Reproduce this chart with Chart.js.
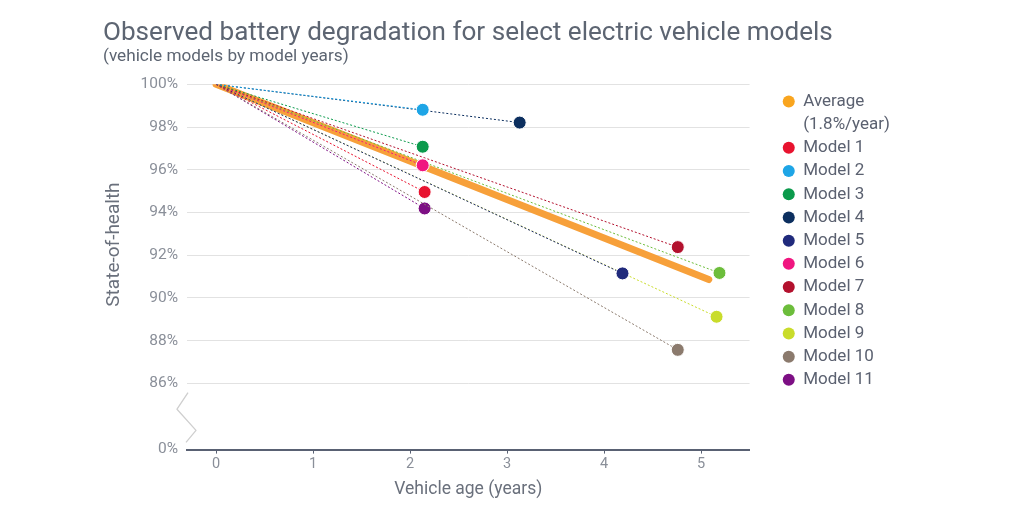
<!DOCTYPE html>
<html><head><meta charset="utf-8">
<script src="https://cdn.jsdelivr.net/npm/chart.js@4/dist/chart.umd.min.js"></script>
<style>html,body{margin:0;padding:0;background:#fff;}#wrap{width:1024px;height:518px;}</style>
</head><body><div id="wrap"><canvas id="c" width="1024" height="518"></canvas></div>
<script>
const titleText = 'Observed battery degradation for select electric vehicle models';
const subtitleText = '(vehicle models by model years)';
const xAxisTitle = 'Vehicle age (years)';
const yAxisTitle = 'State-of-health';

const averageLabel = 'Average';
const averageNote = '(1.8%/year)';
const averageAges = [0, 5.08];
const averageHealth = [100, 90.86];

const modelLabels = ['Model 1','Model 2','Model 3','Model 4','Model 5','Model 6','Model 7','Model 8','Model 9','Model 10','Model 11'];
const modelColors = ['#e8132f','#1ea5e6','#0b9a4c','#0c2f5f','#202a7c','#f01680','#b3112e','#6cbd3b','#c9dc2b','#8b7a6d','#7d0f84'];
const modelAges = [2.15, 2.13, 2.13, 3.13, 4.19, 2.13, 4.76, 5.19, 5.16, 4.76, 2.15];
const modelHealth = [94.96, 98.81, 97.08, 98.21, 91.15, 96.21, 92.38, 91.17, 89.12, 87.57, 94.19];
const startAge = 0;
const startHealth = 100;

const xTickValues = [0, 1, 2, 3, 4, 5];
const yTickValues = [86, 88, 90, 92, 94, 96, 98, 100];
const yBreakValue = 82.9;
const yBreakLabel = '0%';

const FONT = 'Roboto, "Open Sans", sans-serif';
const averageColor = '#f7a03a';

const datasets = [{
  label: averageLabel,
  data: averageAges.map((x, i) => ({x, y: averageHealth[i]})),
  borderColor: averageColor,
  backgroundColor: '#f9a51f',
  borderWidth: 7,
  borderCapStyle: 'round',
  pointRadius: 0,
  pointStyle: 'circle',
  order: 2
}];
modelLabels.forEach((lab, i) => {
  datasets.push({
    label: lab,
    data: [{x: startAge, y: startHealth}, {x: modelAges[i], y: modelHealth[i]}],
    borderColor: modelColors[i],
    backgroundColor: modelColors[i],
    borderWidth: 1,
    borderDash: [2, 2],
    pointRadius: [0, 6.5],
    pointBorderColor: '#ffffff',
    pointBorderWidth: 1,
    pointStyle: 'circle',
    order: 1
  });
});

const breakPlugin = {
  id: 'axisBreak',
  afterDraw(chart) {
    const {ctx, chartArea, scales} = chart;
    const y86 = scales.y.getPixelForValue(yTickValues[0]);
    const yb = scales.y.getPixelForValue(yBreakValue);
    const x0 = chartArea.left;
    const h = yb - y86;
    ctx.save();
    ctx.strokeStyle = '#cfcfcf';
    ctx.lineWidth = 1.3;
    ctx.lineJoin = 'round';
    ctx.beginPath();
    ctx.moveTo(x0 + 1, y86 + h * 0.14);
    ctx.lineTo(x0 - 10, y86 + h * 0.39);
    ctx.lineTo(x0 + 9, y86 + h * 0.71);
    ctx.lineTo(x0 - 1, y86 + h * 0.89);
    ctx.stroke();
    // y-axis title, centred on the upper (unbroken) part of the axis
    const ys = scales.y;
    const cy = ys.getPixelForValue(92.5);
    ctx.translate(ys.left + 11, cy);
    ctx.rotate(-Math.PI / 2);
    ctx.fillStyle = '#6a707c';
    ctx.font = '19px ' + FONT;
    ctx.textAlign = 'center';
    ctx.textBaseline = 'middle';
    ctx.fillText(yAxisTitle, 0, 0);
    ctx.restore();
  }
};

new Chart(document.getElementById('c'), {
  type: 'line',
  data: {datasets},
  plugins: [breakPlugin],
  options: {
    responsive: false,
    animation: false,
    devicePixelRatio: 1,
    layout: {padding: {left: 103, right: 124, top: 0, bottom: 14}},
    plugins: {
      title: {display: true, text: titleText, align: 'start', color: '#5d6572',
        font: {family: FONT, size: 26.1, weight: '400', lineHeight: 1.1}, padding: {top: 19, bottom: 0}},
      subtitle: {display: true, text: subtitleText, align: 'start', color: '#5d6572',
        font: {family: FONT, size: 17.2}, padding: {top: -1, bottom: 17}},
      legend: {
        position: 'right', align: 'start', fullSize: false,
        title: {display: true, text: ' ', font: {size: 2}, padding: 0},
        labels: {
          usePointStyle: true, pointStyle: 'circle', boxWidth: 12, boxHeight: 8.5,
          padding: 6.2, color: '#5b6170', font: {family: FONT, size: 17},
          generateLabels(chart) {
            const items = Chart.defaults.plugins.legend.labels.generateLabels(chart)
              .sort((a, b) => a.datasetIndex - b.datasetIndex);
            items.forEach(it => { it.lineWidth = 0; it.strokeStyle = 'rgba(0,0,0,0)'; });
            items.splice(1, 0, {text: averageNote, fillStyle: 'rgba(0,0,0,0)', strokeStyle: 'rgba(0,0,0,0)',
              lineWidth: 0, pointStyle: 'circle', hidden: false, datasetIndex: -1, fontColor: '#5b6170'});
            return items;
          }
        }
      },
      tooltip: {enabled: false}
    },
    scales: {
      x: {
        type: 'linear', min: -0.3, max: 5.5,
        afterBuildTicks(s) { s.ticks = xTickValues.map(v => ({value: v})); },
        ticks: {color: '#8a8f99', font: {family: FONT, size: 14.5}, padding: 2, callback: v => String(v)},
        grid: {display: true, drawOnChartArea: false, drawTicks: true, tickLength: 4, color: '#596173', lineWidth: 1},
        border: {display: true, color: '#596173', width: 2},
        title: {display: true, text: xAxisTitle, color: '#6a707c', font: {family: FONT, size: 17.5}, padding: {top: 4, bottom: 4}}
      },
      y: {
        type: 'linear', min: yBreakValue, max: 100,
        afterBuildTicks(s) { s.ticks = [yBreakValue, ...yTickValues].map(v => ({value: v})); },
        afterFit(s) { s.width = 84; },
        ticks: {color: '#8a8f99', font: {family: FONT, size: 15.5}, padding: 9,
          callback: v => v === yBreakValue ? yBreakLabel : v + '%'},
        grid: {drawTicks: false, color: c => (c.tick && c.tick.value === yBreakValue) ? 'rgba(0,0,0,0)' : '#e2e2e2', lineWidth: 1},
        border: {display: false},
        title: {display: false}
      },
      y2: {
        type: 'linear', position: 'right', display: true,
        grid: {display: false}, border: {display: false}, ticks: {display: false},
        afterFit(s) { s.width = 27; }
      }
    }
  }
});
</script></body></html>
